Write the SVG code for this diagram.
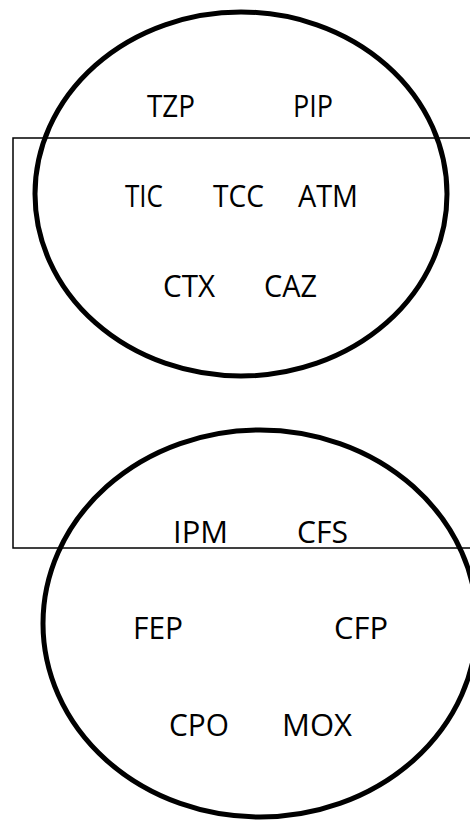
<svg xmlns="http://www.w3.org/2000/svg" width="470" height="821" viewBox="0 0 470 821">
  <style>
    .set { fill: none; stroke: #000; stroke-width: 5; }
    .frame { fill: none; stroke: #000; stroke-width: 1.5; }
    .lbl { font-family: "Open Sans", "Noto Sans", sans-serif; font-size: 31px; fill: #000; text-anchor: middle; }
  </style>
  <rect width="470" height="821" fill="#fff"/>

  <!-- rectangular region spanning both sets -->
  <g id="frame">
    <rect class="frame" x="13" y="138" width="470" height="410"/>
  </g>

  <!-- upper set -->
  <g id="set-upper">
    <ellipse class="set" cx="241" cy="194" rx="206" ry="182"/>
    <text class="lbl" x="171" y="117" textLength="48" lengthAdjust="spacingAndGlyphs">TZP</text>
    <text class="lbl" x="313" y="117" textLength="40" lengthAdjust="spacingAndGlyphs">PIP</text>
    <text class="lbl" x="144" y="207" textLength="38" lengthAdjust="spacingAndGlyphs">TIC</text>
    <text class="lbl" x="238.5" y="207" textLength="51" lengthAdjust="spacingAndGlyphs">TCC</text>
    <text class="lbl" x="328" y="207" textLength="60" lengthAdjust="spacingAndGlyphs">ATM</text>
    <text class="lbl" x="189" y="297" textLength="52" lengthAdjust="spacingAndGlyphs">CTX</text>
    <text class="lbl" x="290.5" y="297" textLength="53" lengthAdjust="spacingAndGlyphs">CAZ</text>
  </g>

  <!-- lower set -->
  <g id="set-lower">
    <ellipse class="set" cx="260" cy="623.5" rx="217" ry="193.5"/>
    <text class="lbl" x="200.5" y="543" textLength="55" lengthAdjust="spacingAndGlyphs">IPM</text>
    <text class="lbl" x="322.5" y="543" textLength="51" lengthAdjust="spacingAndGlyphs">CFS</text>
    <text class="lbl" x="158" y="639" textLength="50" lengthAdjust="spacingAndGlyphs">FEP</text>
    <text class="lbl" x="361" y="639" textLength="54" lengthAdjust="spacingAndGlyphs">CFP</text>
    <text class="lbl" x="199" y="736" textLength="60" lengthAdjust="spacingAndGlyphs">CPO</text>
    <text class="lbl" x="317" y="736" textLength="70" lengthAdjust="spacingAndGlyphs">MOX</text>
  </g>

  <g id="connectors"/>
</svg>
